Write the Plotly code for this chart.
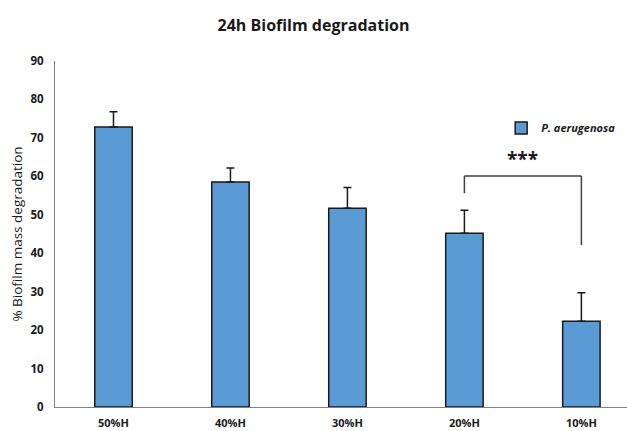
import plotly.graph_objects as go

categories = ["50%H", "40%H", "30%H", "20%H", "10%H"]
values = [72.8, 58.5, 51.7, 45.2, 22.3]
errors = [4.0, 3.7, 5.4, 6.0, 7.4]
series_name = "<b><i>P. aerugenosa</i></b>"

bracket_left_bottom = 55.6
bracket_top = 60.1
bracket_right_bottom = 42.1
stars_y = 60.6

fig = go.Figure()
fig.add_trace(go.Bar(
    x=categories, y=values, name=series_name,
    marker=dict(color="#5B9BD5", line=dict(color="#1a1a1a", width=1.5)),
    width=0.32,
    error_y=dict(type="data", array=errors, symmetric=False, arrayminus=[0]*5,
                 color="#1a1a1a", thickness=1.5, width=4),
    showlegend=True,
))

line = dict(color="#404040", width=1.5)
fig.add_shape(type="line", x0=3, x1=3, y0=bracket_left_bottom, y1=bracket_top, line=line)
fig.add_shape(type="line", x0=3, x1=4, y0=bracket_top, y1=bracket_top, line=line)
fig.add_shape(type="line", x0=4, x1=4, y0=bracket_top, y1=bracket_right_bottom, line=line)
fig.add_annotation(x=3.5, y=stars_y, text="<b>***</b>", showarrow=False,
                   yanchor="bottom", font=dict(size=19, color="#1a1a1a"))

fig.update_layout(
    width=627, height=431,
    margin=dict(l=55, r=0, t=61, b=24, autoexpand=False),
    paper_bgcolor="white", plot_bgcolor="white",
    font=dict(family="Open Sans", color="#1a1a1a"),
    title=dict(text="<b>24h Biofilm degradation</b>", x=0.5, xanchor="center",
               y=0.94, yanchor="middle", font=dict(size=16, color="#1a1a1a")),
    xaxis=dict(range=[-0.5, 4.39], showline=True, linecolor="#808080", linewidth=1.2,
               ticks="", tickfont=dict(size=11, color="#1a1a1a"), showgrid=False,
               tickprefix="<b>", ticksuffix="</b>", automargin=False, ticklabelstandoff=6),
    yaxis=dict(range=[0, 90], dtick=10, showline=True, linecolor="#808080", linewidth=1.2,
               ticks="", showgrid=False, zeroline=False, automargin=False,
               ticklabelstandoff=8,
               tickfont=dict(size=11.5, color="#1a1a1a"), tickprefix="<b>", ticksuffix="</b>",
               title=dict(text="% Biofilm mass degradation", font=dict(size=13.5, color="#1a1a1a"),
                          standoff=4)),
    legend=dict(x=0.78, y=0.806, xanchor="left", yanchor="middle",
                font=dict(size=11, color="#1a1a1a"), bgcolor="rgba(0,0,0,0)",
                itemwidth=30),
    bargap=0.68,
)

fig.write_html("out.html", config={"displayModeBar": False},
               post_script="document.body.style.margin='0';document.body.style.overflow='hidden';")
